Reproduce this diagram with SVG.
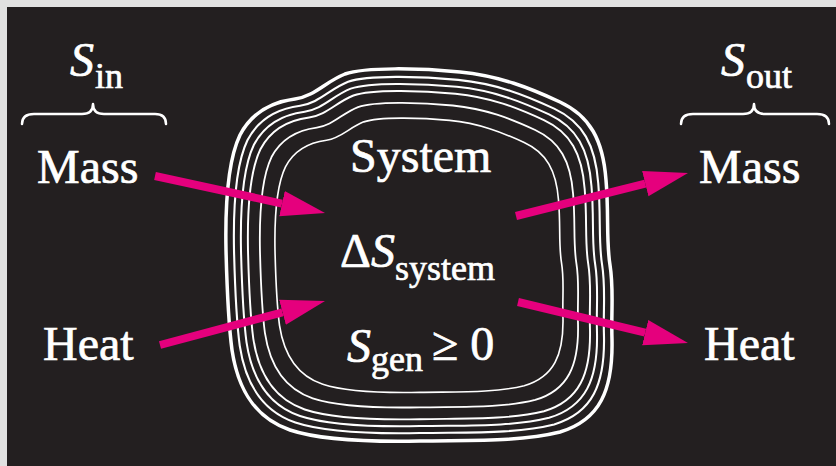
<svg xmlns="http://www.w3.org/2000/svg" width="836" height="466" viewBox="0 0 836 466">
<style>
text{font-family:'Liberation Serif',serif;fill:#ffffff;stroke:#ffffff;stroke-width:0.7}
.i{font-style:italic}
.b{fill:none;stroke:#fff;stroke-width:2.2;vector-effect:non-scaling-stroke}
.br{fill:none;stroke:#fff;stroke-width:2.5;stroke-linecap:round;stroke-linejoin:round}
.ar{fill:none;stroke:#e5007d;stroke-width:8}
</style>
<defs>
<marker id="ah" markerUnits="userSpaceOnUse" markerWidth="50" markerHeight="30" viewBox="0 -15 50 30" refX="0" refY="0" orient="auto">
<path d="M0,-13 L44,0 L0,13 Z" fill="#e5007d"/>
</marker>
<path id="bnd" d="M226,250 C225,200 228,160 240,135 C252,112 272,102 295,99 C315,96 325,82 345,74 C365,67 420,68 460,72 C500,76 530,88 560,102 C590,116 603,140 606,180 C609,215 606,240 610,265 C614,290 611,310 612,340 C613,390 600,420 560,432 C520,442 470,440 420,441 C370,442 320,440 290,430 C255,418 238,390 232,350 C228,320 227,290 226,250 Z"/>
</defs>
<rect x="0" y="0" width="836" height="466" fill="#e1e1e1"/>
<rect x="7" y="7" width="829" height="459" fill="#231f20"/>

<g id="system-boundary">
<use href="#bnd" class="b" style="stroke-width:3.5"/>
<use href="#bnd" class="b" transform="translate(419,256) scale(0.9585,0.957) translate(-419,-256)"/>
<use href="#bnd" class="b" transform="translate(419,256) scale(0.9223,0.9194) translate(-419,-256)"/>
<use href="#bnd" class="b" transform="translate(419,256) scale(0.886,0.882) translate(-419,-256)"/>
<use href="#bnd" class="b" transform="translate(419,256) scale(0.824,0.818) translate(-419,-256)"/>
<use href="#bnd" class="b" transform="translate(419,256) scale(0.746,0.737) translate(-419,-256)"/>
</g>

<g id="system">
<text x="350" y="172" font-size="48">System</text>
<text x="340" y="267" font-size="48">Δ<tspan class="i">S</tspan><tspan font-size="36" y="280">system</tspan></text>
<text x="347" y="362" font-size="48"><tspan class="i">S</tspan><tspan font-size="36" y="371">gen</tspan><tspan x="432" y="360">≥ 0</tspan></text>
</g>

<g id="s-in">
<text x="70" y="76" font-size="48"><tspan class="i">S</tspan><tspan font-size="36" x="95" y="88">in</tspan></text>
<path class="br" d="M22,124 Q22,114 34,114 L82,114 Q93,114 93,104 Q93,114 104,114 L155,114 Q166,114 166,124"/>
</g>

<g id="s-out">
<text x="721" y="76" font-size="48"><tspan class="i">S</tspan><tspan font-size="36" x="746" y="88">out</tspan></text>
<path class="br" d="M681,124 Q681,114 693,114 L743,114 Q754,114 754,104 Q754,114 765,114 L817,114 Q829,114 829,124"/>
</g>

<g id="mass-in"><text x="37" y="183" font-size="48">Mass</text></g>
<g id="heat-in"><text x="43" y="360" font-size="48">Heat</text></g>
<g id="mass-out"><text x="699" y="183" font-size="48">Mass</text></g>
<g id="heat-out"><text x="704" y="360" font-size="48">Heat</text></g>

<g id="connectors">
<path class="ar" d="M155,176 L282,203.6" marker-end="url(#ah)"/>
<path class="ar" d="M160,345 L282.5,312.3" marker-end="url(#ah)"/>
<path class="ar" d="M516,216 L645.3,183.7" marker-end="url(#ah)"/>
<path class="ar" d="M518,302 L645.2,332.7" marker-end="url(#ah)"/>
</g>
</svg>
